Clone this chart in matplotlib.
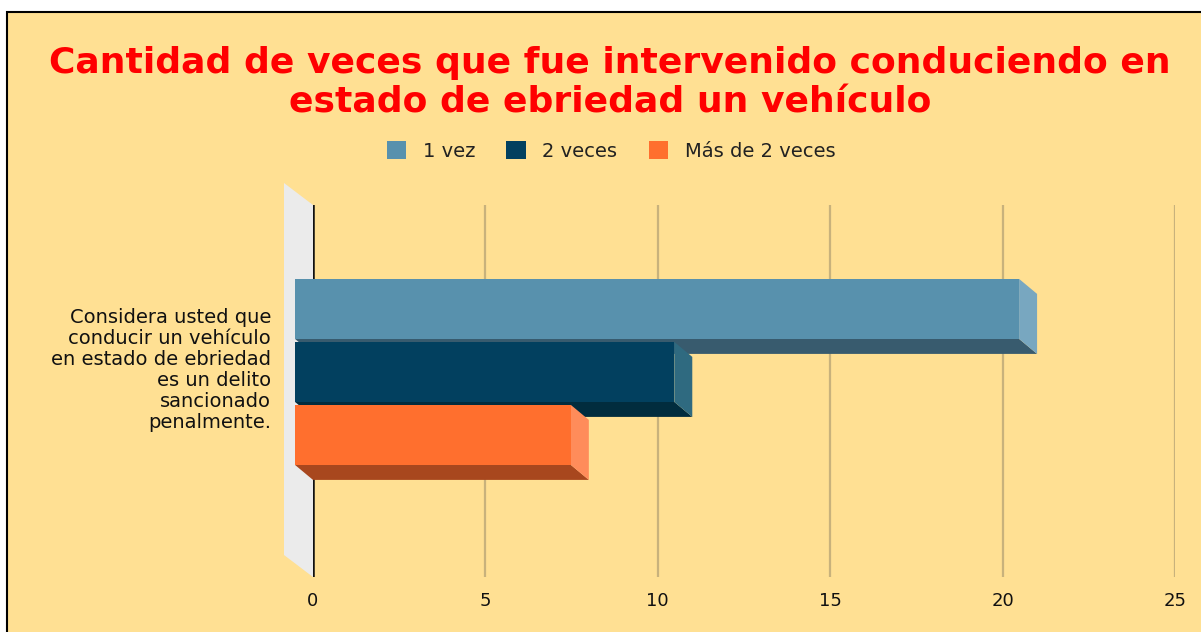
import matplotlib.pyplot as plt
from matplotlib.patches import Polygon, Rectangle, Patch
from matplotlib.transforms import ScaledTranslation

series = ['1 vez', '2 veces', 'Más de 2 veces']
values = [21, 11, 8]
category = ('Considera usted que\nconducir un vehículo\nen estado de ebriedad\n'
            'es un delito\nsancionado\npenalmente.')
xticks = [0, 5, 10, 15, 20, 25]
title = 'Cantidad de veces que fue intervenido conduciendo en\nestado de ebriedad un vehículo'

front_colors = ['#5891ad', '#02405f', '#ff6f2e']
bottom_colors = ['#385b6e', '#012c3e', '#a8471e']
side_colors = ['#78a7c0', '#2f6a80', '#ff8c5a']
bg = '#ffe093'

plt.rcParams['font.family'] = ['DejaVu Sans']

W, H = 1201, 632
fig = plt.figure(figsize=(W / 100, H / 100), dpi=100)
fig.patch.set_facecolor('white')
frame = Rectangle((7 / W, -0.05), 1.1, 1 - 12 / H + 0.05, transform=fig.transFigure,
                  facecolor=bg, edgecolor='black', lw=1.5, zorder=-10)
fig.add_artist(frame)

# back plane of the plot area
ax = fig.add_axes([313 / W, 1 - 577 / H, 862 / W, 372 / H])
ax.set_facecolor('none')
ax.set_xlim(0, 25)
ylo, yhi = -0.511, 0.489
ax.set_ylim(ylo, yhi)
for s in ax.spines.values():
    s.set_visible(False)

xpp = 25 / 862          # data units per pixel (x)
ypp = (yhi - ylo) / 372  # data units per pixel (y)

# left wall
wx, wy = -29 * xpp, 22 * ypp
ax.add_patch(Polygon([(0, ylo), (0, yhi), (wx, yhi + wy), (wx, ylo + wy)],
                     closed=True, facecolor='#ebebeb', edgecolor='none', zorder=1, clip_on=False))

ax.set_xticks(xticks)
ax.set_yticks([])
ax.grid(axis='x', color='#c8b27c', lw=1.6, zorder=1)
ax.set_axisbelow(True)
ax.axvline(0, color='#111111', lw=1.8, zorder=2)
ax.tick_params(axis='x', length=0, pad=11, labelsize=13, labelcolor='#111111')

# 3D bars
dx, dy = -18 * xpp, 15 * ypp
h = 60 * ypp
step = 63 * ypp
for i, v in enumerate(values):
    yc = (1 - i) * step
    y0, y1 = yc - h / 2, yc + h / 2
    bottom = [(dx, y0 + dy), (v + dx, y0 + dy), (v, y0), (0, y0)]
    side = [(v + dx, y0 + dy), (v + dx, y1 + dy), (v, y1), (v, y0)]
    front = [(dx, y0 + dy), (v + dx, y0 + dy), (v + dx, y1 + dy), (dx, y1 + dy)]
    for pts, c in [(bottom, bottom_colors[i]), (side, side_colors[i]), (front, front_colors[i])]:
        ax.add_patch(Polygon(pts, closed=True, facecolor=c, edgecolor='none',
                             zorder=3 + i, clip_on=False))

ax.text(0, 0, category, transform=ax.transData + ScaledTranslation(-42 / 100, 17 / 100, fig.dpi_scale_trans),
        ha='right', va='center', multialignment='right', fontsize=14, color='#111111', linespacing=1.13)

fig.text(610 / W, 1 - 83 / H, title, ha='center', va='center', color='#ff0000',
         fontsize=26, fontweight='bold', linespacing=1.2)

handles = [Patch(facecolor=c, edgecolor='none') for c in front_colors]
fig.legend(handles, series, loc='center', bbox_to_anchor=(611 / W, 1 - 151 / H), ncol=3,
           frameon=False, fontsize=14, handlelength=1.0, handleheight=1.0, handletextpad=0.85,
           columnspacing=1.6, labelcolor='#222222')

fig.savefig('out.png', dpi=100, facecolor='white')
